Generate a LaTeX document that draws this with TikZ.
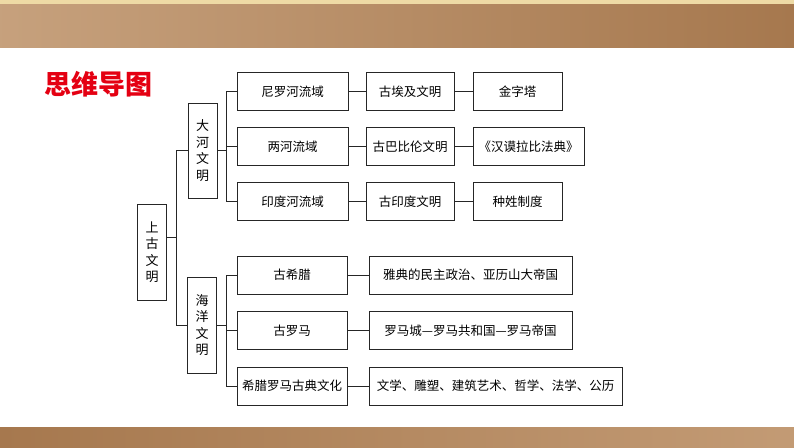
\documentclass[tikz,border=0pt]{standalone}
\usepackage{fontspec}
\newfontfamily\cjk{Noto Sans CJK SC}
\usetikzlibrary{positioning,calc}
\definecolor{bandbrown}{RGB}{184,137,92}
\definecolor{banddark}{RGB}{166,120,78}
\definecolor{bandlight}{RGB}{238,218,165}
\definecolor{titlered}{RGB}{228,0,18}
\tikzset{
  box/.style={draw=black!85, line width=0.9pt, fill=white, inner sep=0pt,
    minimum height=38pt, font=\cjk\fontsize{12.5}{14}\selectfont},
  vbox/.style={box, align=center, minimum width=29pt, minimum height=96pt,
    font=\cjk\fontsize{13}{16.5}\selectfont},
  link/.style={line width=0.8pt, draw=black!85},
}

\begin{document}
\begin{tikzpicture}[x=1pt,y=-1pt]
\useasboundingbox (0,0) rectangle (794,447);
% --- background bands ---
\shade[left color=bandbrown!80!white, right color=banddark] (0,0) rectangle (794,47);
\fill[bandlight] (0,0) rectangle (794,4);
\shade[left color=banddark, right color=bandbrown!85!white] (0,427) rectangle (794,447);

% --- title ---
\node[font=\cjk\bfseries\fontsize{27}{30}\selectfont, text=titlered] (title) at (98,84) {思维导图};

% --- left column ---
\node[vbox] (shanggu) at (152,252) {上\\古\\文\\明};
\node[vbox, minimum height=95pt] (dahe) at (202.5,150.5) {大\\河\\文\\明};
\node[vbox] (haiyang) at (202,325) {海\\洋\\文\\明};

% --- river civilisations ---
\node[box, minimum width=111pt] (nile) at (292.5,91.5) {尼罗河流域};
\node[box, minimum width=88pt] (egypt) at (410,91.5) {古埃及文明};
\node[box, minimum width=89pt] (pyramid) at (517.5,91.5) {金字塔};

\node[box, minimum width=111pt] (tigris) at (292.5,146.5) {两河流域};
\node[box, minimum width=88pt] (babylon) at (410,146.5) {古巴比伦文明};
\node[box, minimum width=111pt] (code) at (528.5,146.5) {《汉谟拉比法典》};

\node[box, minimum width=111pt] (indus) at (292.5,201.5) {印度河流域};
\node[box, minimum width=88pt] (india) at (410,201.5) {古印度文明};
\node[box, minimum width=89pt] (caste) at (517.5,201.5) {种姓制度};

% --- sea civilisations ---
\node[box, minimum width=110pt] (greece) at (292,275) {古希腊};
\node[box, minimum width=203pt] (athens) at (470.5,275) {雅典的民主政治、亚历山大帝国};

\node[box, minimum width=110pt] (rome) at (292,330.5) {古罗马};
\node[box, minimum width=203pt] (romecity) at (470.5,330.5) {罗马城—罗马共和国—罗马帝国};

\node[box, minimum width=110pt] (classic) at (292,386) {希腊罗马古典文化};
\node[box, minimum width=253pt] (arts) at (495.5,386) {文学、雕塑、建筑艺术、哲学、法学、公历};

% --- brackets ---
\coordinate (b0) at ($(dahe.west)!0.5!(haiyang.west)+(-10.5,0)$);
\draw[link] (dahe.west) -| (b0) |- (haiyang.west);
\draw[link] (shanggu.east |- b0) -- (b0);

\coordinate (b1) at ($(dahe.east)+(9,0)$);
\draw[link] (dahe.east) -- (b1);
\draw[link] (nile.west) -| (b1) |- (indus.west);
\draw[link] (tigris.west) -- (tigris.west -| b1);

\coordinate (b2) at ($(haiyang.east)+(9,0)$);
\draw[link] (haiyang.east) -- (b2);
\draw[link] (greece.west) -| (b2) |- (classic.west);
\draw[link] (rome.west) -- (rome.west -| b2);

% --- row links ---
\draw[link] (nile) -- (egypt);
\draw[link] (egypt) -- (pyramid);
\draw[link] (tigris) -- (babylon);
\draw[link] (babylon) -- (code);
\draw[link] (indus) -- (india);
\draw[link] (india) -- (caste);
\draw[link] (greece) -- (athens);
\draw[link] (rome) -- (romecity);
\draw[link] (classic) -- (arts);
\end{tikzpicture}
\end{document}
